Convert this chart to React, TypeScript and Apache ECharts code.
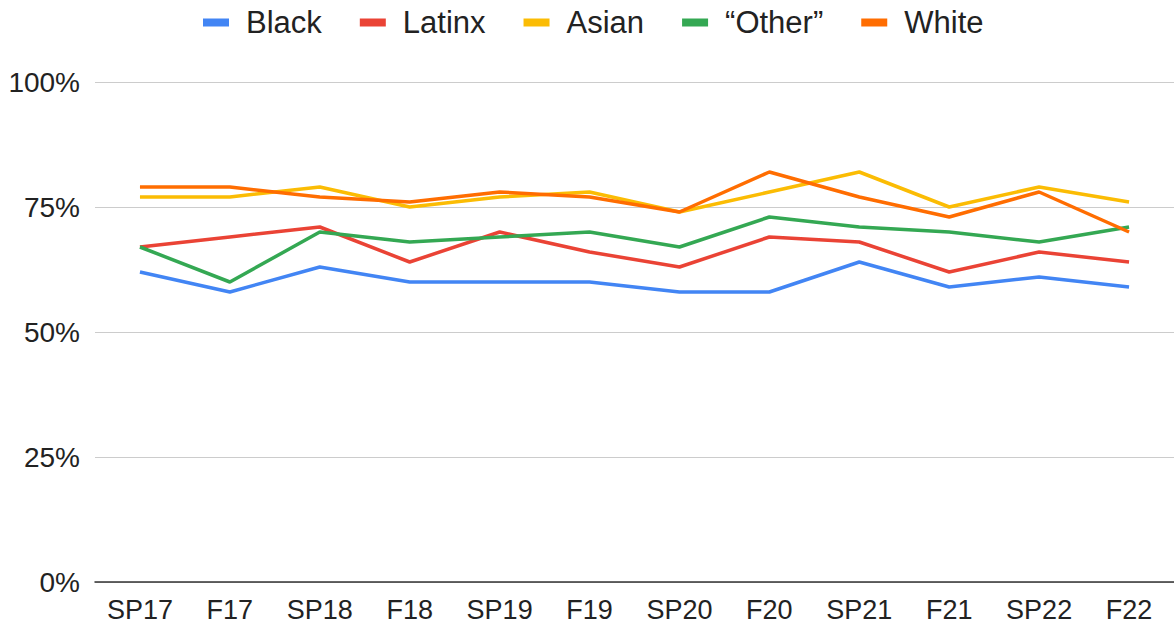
import React, { useEffect, useRef } from "react";
import * as echarts from "echarts";

const categories = ["SP17", "F17", "SP18", "F18", "SP19", "F19", "SP20", "F20", "SP21", "F21", "SP22", "F22"];
const black = [62, 58, 63, 60, 60, 60, 58, 58, 64, 59, 61, 59];
const latinx = [67, 69, 71, 64, 70, 66, 63, 69, 68, 62, 66, 64];
const asian = [77, 77, 79, 75, 77, 78, 74, 78, 82, 75, 79, 76];
const other = [67, 60, 70, 68, 69, 70, 67, 73, 71, 70, 68, 71];
const white = [79, 79, 77, 76, 78, 77, 74, 82, 77, 73, 78, 70];

const seriesNames = ["Black", "Latinx", "Asian", "\u201cOther\u201d", "White"];
const seriesData = [black, latinx, asian, other, white];
const colors = ["#4285F4", "#EA4335", "#FBBC04", "#34A853", "#FF6D01"];
const yTicks = [0, 25, 50, 75, 100];

const FONT = "'Liberation Sans', Arial, Helvetica, sans-serif";

export default function App() {
  const ref = useRef<HTMLDivElement>(null);
  useEffect(() => {
    if (!ref.current) return;
    const chart = echarts.init(ref.current, null, { renderer: "svg" });
    chart.setOption({
      animation: false,
      color: colors,
      textStyle: { fontFamily: FONT },
      legend: {
        top: 2,
        left: 198,
        icon: "rect",
        itemWidth: 26,
        itemHeight: 8,
        itemGap: 38,
        textStyle: { fontSize: 31, color: "#222", fontFamily: FONT, padding: [0, 0, 0, 12] },
        data: seriesNames,
      },
      grid: { left: 95, right: 0, top: 82, bottom: 42, containLabel: false },
      xAxis: {
        type: "category",
        data: categories,
        boundaryGap: true,
        axisLine: { show: true, lineStyle: { color: "#333", width: 1.5 } },
        axisTick: { show: false },
        axisLabel: { fontSize: 27, color: "#222", margin: 14, fontFamily: FONT, interval: 0 },
        splitLine: { show: false },
      },
      yAxis: {
        type: "value",
        min: yTicks[0],
        max: yTicks[yTicks.length - 1],
        interval: 25,
        axisLine: { show: false },
        axisTick: { show: false },
        axisLabel: { fontSize: 28, color: "#222", margin: 15, fontFamily: FONT, formatter: "{value}%" },
        splitLine: { lineStyle: { color: "#cccccc", width: 1 } },
      },
      series: seriesNames.map((name, i) => ({
        name,
        type: "line",
        data: seriesData[i],
        showSymbol: false,
        symbol: "none",
        lineStyle: { width: 3.5, color: colors[i] },
        itemStyle: { color: colors[i] },
      })),
    });
    return () => chart.dispose();
  }, []);
  return (
    <div
      ref={ref}
      style={{ position: "fixed", left: 0, top: 0, width: 1174, height: 624, background: "#fff" }}
    />
  );
}
